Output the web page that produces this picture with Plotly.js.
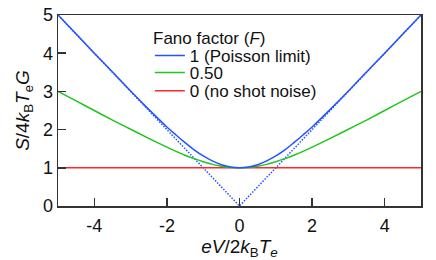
<!DOCTYPE html>
<html>
<head>
<meta charset="utf-8">
<script src="https://cdn.plot.ly/plotly-3.0.1.min.js"></script>
<style>html,body{margin:0;padding:0;background:#fff;}#chart{width:436px;height:260px;}</style>
</head>
<body>
<div id="chart"></div>
<script>
// Bias voltage eV/2kBTe
var xVals = [-5, -4.5, -4, -3.5, -3, -2.5, -2, -1.75, -1.5, -1.25, -1, -0.75, -0.5, -0.25, 0,
             0.25, 0.5, 0.75, 1, 1.25, 1.5, 1.75, 2, 2.5, 3, 3.5, 4, 4.5, 5];
// Fano factor 1 (Poisson limit)
var fano1 = [5.00, 4.50, 4.00, 3.51, 3.01, 2.53, 2.07, 1.86, 1.66, 1.47, 1.31, 1.18, 1.08, 1.02, 1.00,
             1.02, 1.08, 1.18, 1.31, 1.47, 1.66, 1.86, 2.07, 2.53, 3.01, 3.51, 4.00, 4.50, 5.00];
// Fano factor 0.50
var fano050 = [3.00, 2.75, 2.50, 2.25, 2.01, 1.77, 1.54, 1.43, 1.33, 1.24, 1.16, 1.09, 1.04, 1.01, 1.00,
               1.01, 1.04, 1.09, 1.16, 1.24, 1.33, 1.43, 1.54, 1.77, 2.01, 2.25, 2.50, 2.75, 3.00];
// Fano factor 0 (no shot noise)
var fano0X = [-5, 5];
var fano0 = [1, 1];
// Asymptote (dotted) |x|
var asymX = [-5, 0, 5];
var asymY = [5, 0, 5];

var xTicks = [-4, -2, 0, 2, 4];
var xTickText = ['-4', '-2', '0', '2', '4'];
var yTicks = [0, 1, 2, 3, 4, 5];
var yTickText = ['0', '1', '2', '3', '4', '5'];

var legendTitle = 'Fano factor (<i>F</i>)';
var legendNames = ['1 (Poisson limit)', '0.50', '0 (no shot noise)'];

var blue = 'rgb(35,85,255)', green = 'rgb(30,200,30)', red = 'rgb(255,40,40)';
var font = 'Liberation Sans, Arial, sans-serif';
var legFont = {family: font, size: 17, color: '#111'};

var traces = [
  {x: asymX, y: asymY, mode: 'lines', line: {color: blue, width: 1.5, dash: '1.5px,1.5px'}, showlegend: false, hoverinfo: 'skip'},
  {x: fano0X, y: fano0, mode: 'lines', name: legendNames[2], legend: 'legend3', line: {color: red, width: 1.5}},
  {x: xVals, y: fano050, mode: 'lines', name: legendNames[1], legend: 'legend2', line: {color: green, width: 1.5, shape: 'spline'}},
  {x: xVals, y: fano1, mode: 'lines', name: legendNames[0], legend: 'legend', line: {color: blue, width: 1.5, shape: 'spline'}}
];

function leg(y) {
  return {x: 0.253, y: y, xanchor: 'left', yanchor: 'middle',
          bgcolor: 'rgba(0,0,0,0)', borderwidth: 0, font: legFont};
}

var axisCommon = {
  showline: true, linecolor: '#333', linewidth: 1.5, mirror: true,
  ticks: 'inside', ticklen: 8, tickwidth: 1.5, tickcolor: '#333',
  showgrid: false, zeroline: false,
  tickfont: {family: font, size: 18, color: '#111'}
};

var layout = {
  width: 436, height: 260,
  margin: {l: 58, r: 15, t: 15, b: 54},
  paper_bgcolor: '#fff', plot_bgcolor: '#fff',
  font: {family: font, color: '#111'},
  showlegend: true,
  legend: leg(0.785),
  legend2: leg(0.697),
  legend3: leg(0.601),
  annotations: [{
    text: legendTitle, xref: 'paper', yref: 'paper', x: 0.257, y: 0.877,
    xanchor: 'left', yanchor: 'middle', showarrow: false, font: legFont
  }],
  xaxis: Object.assign({}, axisCommon, {
    range: [-5, 5], tickvals: xTicks, ticktext: xTickText, ticklabelstandoff: 3,
    title: {text: '<i>eV</i>/2<i>k</i><sub>B</sub><i>T<sub>e</sub></i>', font: {family: font, size: 19, color: '#111'}, standoff: 2}
  }),
  yaxis: Object.assign({}, axisCommon, {
    range: [0, 5], tickvals: yTicks, ticktext: yTickText,
    title: {text: '<i>S</i>/4<i>k</i><sub>B</sub><i>T</i><sub>e</sub><i>G</i>', font: {family: font, size: 19, color: '#111'}, standoff: 8}
  })
};

Plotly.newPlot('chart', traces, layout, {displayModeBar: false, staticPlot: true});
</script>
</body>
</html>
